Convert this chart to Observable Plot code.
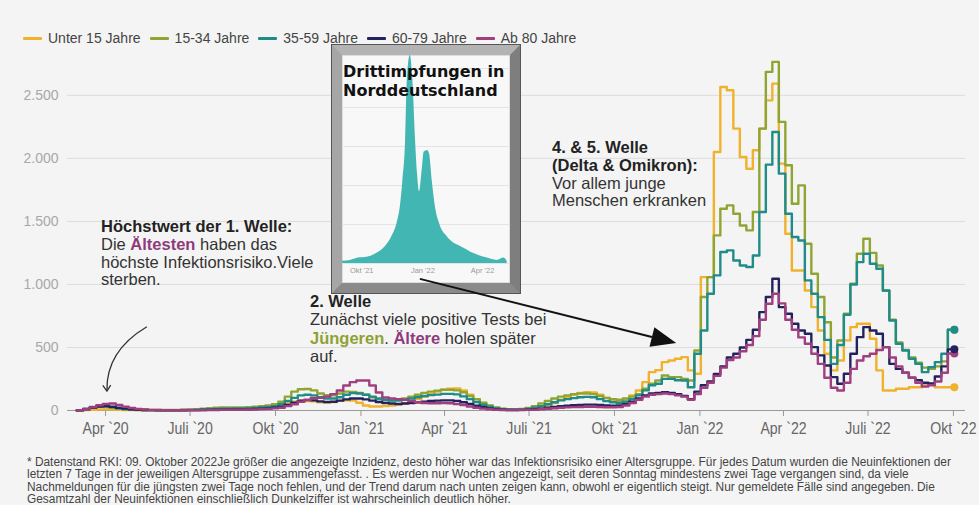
<!DOCTYPE html>
<html><head><meta charset="utf-8">
<script src="https://cdn.jsdelivr.net/npm/d3@7"></script>
<script src="https://cdn.jsdelivr.net/npm/@observablehq/plot@0.6"></script>
<style>
html,body{margin:0;padding:0;background:#f4f4f4;}
#wrap{position:relative;width:979px;height:505px;overflow:hidden;font-family:"Liberation Sans",Arial,sans-serif;background:#f4f4f4;}
#legend{position:absolute;left:23px;top:30px;display:flex;align-items:center;font-size:14px;color:#444;white-space:nowrap;line-height:17px;}
.item{display:flex;align-items:center;margin-right:9px;}
.sw{width:19px;height:3px;margin-right:6px;border-radius:1px;}
#chart{position:absolute;left:0;top:56px;}
.ann{position:absolute;font-size:16.5px;line-height:17.8px;color:#333;white-space:nowrap;z-index:3;}
.ann b{color:#222;}
#foot{position:absolute;left:27px;top:456px;font-size:12px;line-height:12.3px;color:#444;white-space:nowrap;transform:scaleX(0.99);transform-origin:left top;}
#inset{position:absolute;left:332px;top:45px;width:168px;height:228px;border:10px solid;border-color:#b3b3b3 #7e7e7e #8a8a8a #a6a6a6;box-shadow:0 0 0 1px #555, inset 0 0 0 1px #ddd;background:#f8f8f8;z-index:4;}
#inset .ttl{position:absolute;left:1px;top:8px;font-family:"DejaVu Sans",sans-serif;font-weight:bold;font-size:16px;line-height:18.7px;color:#111;white-space:nowrap;z-index:2;}
#inset .ip{position:absolute;left:0;top:0;}
#overlay{position:absolute;left:0;top:0;z-index:6;pointer-events:none;}
</style></head>
<body>
<div id="wrap">
  <div id="legend"></div>
  <div id="chart"></div>
  <div class="ann" style="left:101px;top:218px;"><b>Höchstwert der 1. Welle:</b><br>Die <b style="color:#8e3b7c">Ältesten</b> haben das<br>höchste Infektionsrisiko.Viele<br>sterben.</div>
  <div class="ann" style="left:310px;top:292px;line-height:18.3px;"><b>2. Welle</b><br>Zunächst viele positive Tests bei<br><b style="color:#8fa133">Jüngeren</b>. <b style="color:#8e3b7c">Ältere</b> holen später<br>auf.</div>
  <div class="ann" style="left:552px;top:139px;"><b>4. &amp; 5. Welle<br>(Delta &amp; Omikron):</b><br>Vor allem junge<br>Menschen erkranken</div>
  <div id="inset"><div class="ip" id="insetplot"></div><div class="ttl">Drittimpfungen in<br>Norddeutschland</div></div>
  <div id="foot">* Datenstand RKI: 09. Oktober 2022Je größer die angezeigte Inzidenz, desto höher war das Infektionsrisiko einer Altersgruppe. Für jedes Datum wurden die Neuinfektionen der<br>letzten 7 Tage in der jeweiligen Altersgruppe zusammengefasst. . Es werden nur Wochen angezeigt, seit deren Sonntag mindestens zwei Tage vergangen sind, da viele<br>Nachmeldungen für die jüngsten zwei Tage noch fehlen, und der Trend darum nach unten zeigen kann, obwohl er eigentlich steigt. Nur gemeldete Fälle sind angegeben. Die<br>Gesamtzahl der Neuinfektionen einschließlich Dunkelziffer ist wahrscheinlich deutlich höher.</div>
</div>
<script>
// ---------- data ----------
const groups = ["Unter 15 Jahre", "15-34 Jahre", "35-59 Jahre", "60-79 Jahre", "Ab 80 Jahre"];
const colors = ["#f0b22c", "#8fa532", "#1f8c89", "#24225e", "#a03f80"];
const firstWeek = "2020-03-01"; // weekly values, week ending on Sunday

const unter15 = [0,1,3,6,8,9,8,6,4,3, 2,2,2,2,2,2,2,3,4,5, 7,9,11,12,12,12,12,13,15,18,
  22,28,38,55,70,78,75,72,66,64, 68,76,80,78,62,40,32,32,35,40, 48,58,70,90,110,130,150,165,172,175,
  160,125,90,60,38,22,12,8,6,7, 10,16,25,40,60,85,105,125,140,145, 143,125,100,78,68,80,119,159,225,304,
  320,384,397,410,423,318,291,1058,1058,2050, 2566,2540,2236,2011,1918,2064,2236,2460,2593,1958,
  1402,1111,1111,952,820,635,450,318,397,556, 661,688,688,569,318,159,159,172,172,185, 185,212,212,185,185,185];
const j15_34 = [0,2,12,24,30,28,22,15,10,7, 5,4,4,4,4,4,5,6,8,10, 14,18,22,24,25,25,25,27,30,34,
  40,50,70,110,150,168,170,160,135,122, 120,135,150,148,140,125,105,90,82,80, 85,95,110,125,140,150,158,165,165,160,
  145,115,90,62,40,25,15,10,9,12, 20,35,55,75,95,110,120,130,135,135, 130,115,100,90,85,95,110,130,172,212,
  238,278,265,265,251,238,476,900,1058,1389, 1600,1627,1561,1468,1429,1574,2236,2686,2765,2289,
  1945,1640,1786,1323,1085,900,700,420,555,767, 1005,1243,1362,1250,1150,950,720,540,480,420, 380,340,330,350,390,640];
const j35_59 = [0,3,14,28,35,33,27,18,12,8, 5,4,3,3,3,3,3,4,5,6, 8,10,12,14,15,16,16,18,20,24,
  28,35,50,75,100,120,125,120,105,95, 95,105,125,138,135,125,110,95,85,78, 78,85,95,105,115,122,126,132,132,128,
  112,90,68,46,30,18,10,7,6,7, 12,22,35,50,65,80,90,98,105,108, 105,90,75,66,62,70,90,120,160,200,
  212,251,251,240,238,185,450,635,926,1072, 1257,1270,1190,1150,1138,1230,1574,1950,2209,1879,
  1561,1376,1349,1032,926,741,560,370,520,760, 1000,1177,1243,1164,1124,952,714,529,476,410, 370,304,344,384,450,640];
const j60_79 = [0,2,10,22,32,35,30,22,15,10, 6,4,3,2,2,2,2,2,3,3, 4,5,6,7,8,9,9,10,12,14,
  17,22,30,45,62,78,82,80,72,68, 70,78,88,95,95,88,78,68,60,55, 52,55,60,65,70,75,78,80,80,76,
  66,52,38,26,17,10,6,4,4,5, 7,10,15,22,28,34,38,42,45,47, 47,44,40,38,40,50,70,95,120,135,
  140,145,140,130,115,90,150,200,230,290, 350,420,450,500,560,640,780,900,1045,820,
  767,688,635,609,503,437,357,265,212,291, 450,582,661,635,609,503,370,330,300,260, 240,220,215,270,350,485];
const ab80 = [0,2,10,25,42,52,55,45,30,20, 12,8,5,4,3,3,2,2,2,2, 3,3,4,5,6,7,7,8,9,11,
  13,17,22,35,50,70,85,100,100,110, 130,159,198,225,238,238,198,143,103,95, 90,85,75,65,60,58,58,60,58,52,
  44,32,22,15,10,6,4,3,3,4, 5,7,10,14,18,22,25,27,28,30, 30,28,26,26,28,40,60,85,110,125,
  130,135,130,120,110,85,130,180,220,275, 340,400,420,470,520,590,720,847,926,850,
  720,640,580,530,450,370,260,180,159,220, 330,397,430,450,480,503,420,350,300,260, 220,190,200,230,300,452];

const yTicks = [0, 500, 1000, 1500, 2000, 2500];
const xTickDates = ["2020-04-01","2020-07-01","2020-10-01","2021-01-01","2021-04-01","2021-07-01","2021-10-01","2022-01-01","2022-04-01","2022-07-01","2022-10-01"];
const xTickLabels = ["Apr `20","Juli `20","Okt `20","Jan `21","Apr `21","Juli `21","Okt `21","Jan `22","Apr `22","Juli `22","Okt `22"];

// Inset: Drittimpfungen in Norddeutschland (relative units)
const insetDates = ["2021-09-02","2021-09-14","2021-09-26","2021-10-09","2021-10-24","2021-11-05","2021-11-15","2021-11-23","2021-11-28","2021-12-02","2021-12-06","2021-12-08","2021-12-11","2021-12-13","2021-12-17","2021-12-21","2021-12-24","2021-12-27","2021-12-31","2022-01-03","2022-01-08","2022-01-11","2022-01-15","2022-01-20","2022-01-27","2022-02-07","2022-02-17","2022-02-24","2022-03-03","2022-03-18","2022-04-08","2022-04-23","2022-05-03","2022-05-08"];
const insetValues = [3,4,7,8,13,21,34,51,72,107,158,222,260,267,235,158,115,92,120,143,145,141,107,72,49,34,26,23,20,13,7,4,7,3];
const insetTickDates = ["2021-10-01","2022-01-01","2022-04-01"];
const insetTickLabels = ["Okt '21","Jan '22","Apr '22"];

// annotation arrows (data coordinates)
const curveArrow = [["2020-05-16", 660], ["2020-04-22", 555], ["2020-04-02", 397], ["2020-04-03", 150]];
const straightArrow = [["2021-03-06", 1040], ["2021-12-07", 531]];

// ---------- build ----------
const series = [unter15, j15_34, j35_59, j60_79, ab80];
const start = new Date(firstWeek + "T00:00:00Z");
const weekDate = i => new Date(start.getTime() + i * 7 * 864e5);
const rows = [];
series.forEach((vals, g) => vals.forEach((v, i) => rows.push({date: weekDate(i), value: v, group: groups[g]})));
const lastRows = [0,1,2,4,3].map(g => ({date: weekDate(series[g].length - 1), value: series[g][series[g].length - 1], group: groups[g]}));

// legend
const lg = document.getElementById("legend");
groups.forEach((g, i) => {
  const it = document.createElement("div"); it.className = "item";
  it.innerHTML = `<span class="sw" style="background:${colors[i]}"></span><span>${g}</span>`;
  lg.appendChild(it);
});

const labelMap = new Map(xTickDates.map((d, i) => [+new Date(d), xTickLabels[i]]));
const deFmt = d => d3.format(",")(d).replace(/,/g, ".");
const chartTop = 56;

const plot = Plot.plot({
  width: 979, height: 392,
  marginLeft: 67, marginRight: 14, marginTop: 1, marginBottom: 38,
  style: {background: "transparent", fontFamily: "Liberation Sans, Arial, sans-serif", overflow: "visible"},
  x: {type: "utc", domain: [new Date("2020-02-20"), new Date("2022-10-14")]},
  y: {domain: [0, 2800]},
  color: {domain: groups, range: colors},
  marks: [
    Plot.gridY(yTicks.slice(1), {stroke: "#dcdcdc", strokeOpacity: 1}),
    Plot.axisY(yTicks, {tickSize: 0, tickPadding: 9, tickFormat: deFmt, fontSize: 14, fill: "#a8a8a8", label: null}),
    Plot.ruleY([0], {stroke: "#999"}),
    Plot.axisX(xTickDates.map(d => new Date(d)), {tickSize: 6, tickPadding: 6, stroke: "#999", fill: "#666",
      tickFormat: d => labelMap.get(+d), fontSize: 16, label: null}),
    Plot.line(rows, {x: "date", y: "value", z: "group", stroke: "group", curve: "step-before", strokeWidth: 2.4}),
    Plot.dot(lastRows, {x: "date", y: "value", fill: "group", r: 4})
  ]
});
document.getElementById("chart").appendChild(plot);
// condense the x tick labels (narrow look of the reference)
d3.select(plot).selectAll('g[aria-label="x-axis tick label"] text').each(function() {
  const t = this.getAttribute("transform") || "";
  this.setAttribute("transform", t + " scale(0.88,1)");
});

// inset
const insetData = insetDates.map((d, i) => ({date: new Date(d), value: insetValues[i]}));
const insetMap = new Map(insetTickDates.map((d, i) => [+new Date(d), insetTickLabels[i]]));
const inset = Plot.plot({
  width: 168, height: 228, marginLeft: 0, marginRight: 0, marginTop: 0, marginBottom: 20,
  style: {background: "transparent", fontFamily: "Liberation Sans, Arial, sans-serif"},
  x: {type: "utc", domain: [new Date("2021-09-02"), new Date("2022-05-13")]},
  y: {domain: [0, 266.7], axis: null},
  marks: [
    Plot.gridY([0, 50, 100, 150, 200, 250], {stroke: "#e4e4e4", strokeOpacity: 1}),
    Plot.areaY(insetData, {x: "date", y: "value", fill: "#41b6b2", curve: "monotone-x"}),
    Plot.axisX(insetTickDates.map(d => new Date(d)), {tickSize: 0, tickPadding: 4, fontSize: 7.5, fill: "#999",
      tickFormat: d => insetMap.get(+d), label: null})
  ]
});
document.getElementById("insetplot").appendChild(inset);

// annotation arrows overlay, positioned through the chart's scales
const sx = plot.scale("x"), sy = plot.scale("y");
const P = ([d, v]) => [sx.apply(new Date(d)), sy.apply(v) + chartTop];
const ov = d3.select("#wrap").append("svg").attr("id", "overlay").attr("width", 979).attr("height", 505);
const c = curveArrow.map(P);
ov.append("path").attr("d", `M${c[0]}C${c[1]} ${c[2]} ${c[3]}`).attr("fill", "none").attr("stroke", "#333").attr("stroke-width", 1.3);
{
  const ang = Math.atan2(c[3][1] - c[2][1], c[3][0] - c[2][0]);
  const L = 7, a = 0.6;
  const p1 = [c[3][0] - L * Math.cos(ang - a), c[3][1] - L * Math.sin(ang - a)];
  const p2 = [c[3][0] - L * Math.cos(ang + a), c[3][1] - L * Math.sin(ang + a)];
  ov.append("path").attr("d", `M${p1}L${c[3]}L${p2}`).attr("fill", "none").attr("stroke", "#333").attr("stroke-width", 1.3);
}
{
  const s = straightArrow.map(P);
  const ang = Math.atan2(s[1][1] - s[0][1], s[1][0] - s[0][0]);
  const L = 25, hw = 10;
  const base = [s[1][0] - L * Math.cos(ang), s[1][1] - L * Math.sin(ang)];
  ov.append("line").attr("x1", s[0][0]).attr("y1", s[0][1]).attr("x2", base[0]).attr("y2", base[1]).attr("stroke", "#111").attr("stroke-width", 2);
  const b1 = [base[0] + hw * Math.sin(ang), base[1] - hw * Math.cos(ang)];
  const b2 = [base[0] - hw * Math.sin(ang), base[1] + hw * Math.cos(ang)];
  ov.append("path").attr("d", `M${b1}L${s[1]}L${b2}Z`).attr("fill", "#111");
}
</script>
</body></html>
